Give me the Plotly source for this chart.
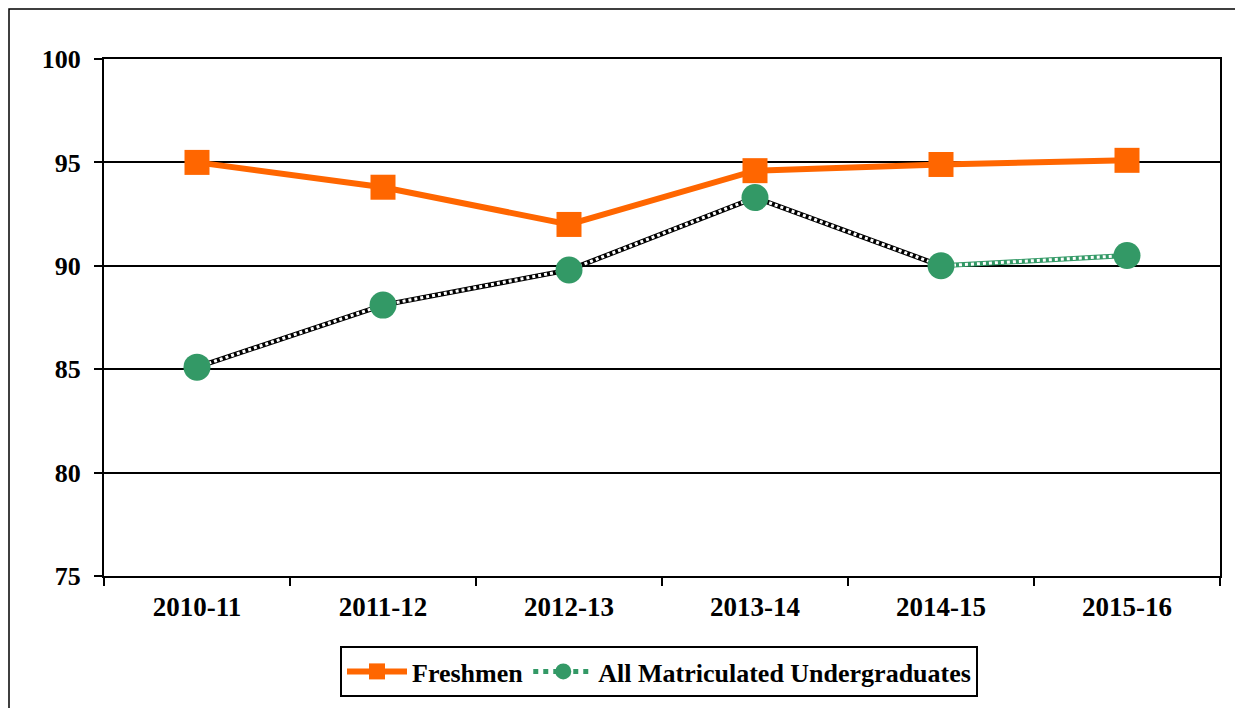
import plotly.graph_objects as go

years = ["2010-11", "2011-12", "2012-13", "2013-14", "2014-15", "2015-16"]
freshmen = [95.0, 93.8, 92.0, 94.6, 94.9, 95.1]
all_undergrad = [85.1, 88.1, 89.8, 93.3, 90.0, 90.5]

ORANGE = "#FF6600"
GREEN = "#339966"
FONT = "Liberation Serif"

fig = go.Figure()

# checkered black segment (first five points)
fig.add_trace(go.Scatter(x=years[:5], y=all_undergrad[:5], mode="lines",
                         line=dict(color="black", width=5), showlegend=False, hoverinfo="skip"))
fig.add_trace(go.Scatter(x=years[:5], y=all_undergrad[:5], mode="lines",
                         line=dict(color="white", width=3, dash="dot"), showlegend=False, hoverinfo="skip"))
# checkered green segment (last two points)
fig.add_trace(go.Scatter(x=years[4:], y=all_undergrad[4:], mode="lines",
                         line=dict(color=GREEN, width=5), showlegend=False, hoverinfo="skip"))
fig.add_trace(go.Scatter(x=years[4:], y=all_undergrad[4:], mode="lines",
                         line=dict(color="white", width=3, dash="dot"), showlegend=False, hoverinfo="skip"))

# Freshmen
fig.add_trace(go.Scatter(x=years, y=freshmen, mode="lines+markers", name="Freshmen",
                         line=dict(color=ORANGE, width=6),
                         marker=dict(symbol="square", size=25, color=ORANGE),
                         showlegend=True))
# All markers
fig.add_trace(go.Scatter(x=years, y=all_undergrad, mode="markers", name="All Matriculated Undergraduates",
                         marker=dict(symbol="circle", size=27, color=GREEN),
                         showlegend=False))
# legend entry for All
fig.add_trace(go.Scatter(x=[None], y=[None], mode="lines+markers", name="All Matriculated Undergraduates",
                         line=dict(color=GREEN, width=5, dash="dot"),
                         marker=dict(symbol="circle", size=20, color=GREEN),
                         showlegend=True))

W, H = 1243, 708
L, T = 96, 51
pw, ph = 1116, 517
R, B = W - L - pw, H - T - ph
bottom = T + ph  # figure y of the x axis

fig.update_layout(
    width=W, height=H,
    margin=dict(l=L, r=R, t=T, b=B),
    paper_bgcolor="white", plot_bgcolor="white",
    font=dict(family=FONT, size=20, color="black"),
    showlegend=True,
    legend=dict(orientation="h", x=(651 - L) / pw, xanchor="center", y=(bottom - 638) / ph, yanchor="top",
                bordercolor="black", borderwidth=2, bgcolor="white",
                font=dict(family=FONT, size=26, color="black", weight="bold"),
                itemsizing="trace", tracegroupgap=0, itemwidth=60),
    shapes=[dict(type="rect", xref="paper", yref="paper",
                 x0=(1 - L) / pw, x1=1.2, y0=-0.5, y1=(bottom - 1) / ph,
                 line=dict(color="black", width=1.5), fillcolor="rgba(0,0,0,0)", layer="below")],
)

fig.update_xaxes(type="category", showline=True, linecolor="black", linewidth=2, mirror=True,
                 ticks="outside", ticklen=8, tickcolor="black", tickwidth=2, tickson="boundaries",
                 showgrid=False, tickfont=dict(family=FONT, size=27, color="black", weight="bold"),
                 ticklabelstandoff=6, range=[-0.5, 5.5])
fig.update_yaxes(range=[75, 100], dtick=5, showline=True, linecolor="black", linewidth=2, mirror=True,
                 ticks="outside", ticklen=8, tickcolor="black", tickwidth=2,
                 showgrid=True, gridcolor="black", gridwidth=2, zeroline=False,
                 ticklabelstandoff=8,
                 tickfont=dict(family=FONT, size=26, color="black", weight="bold"))

fig.write_html("out.html")
